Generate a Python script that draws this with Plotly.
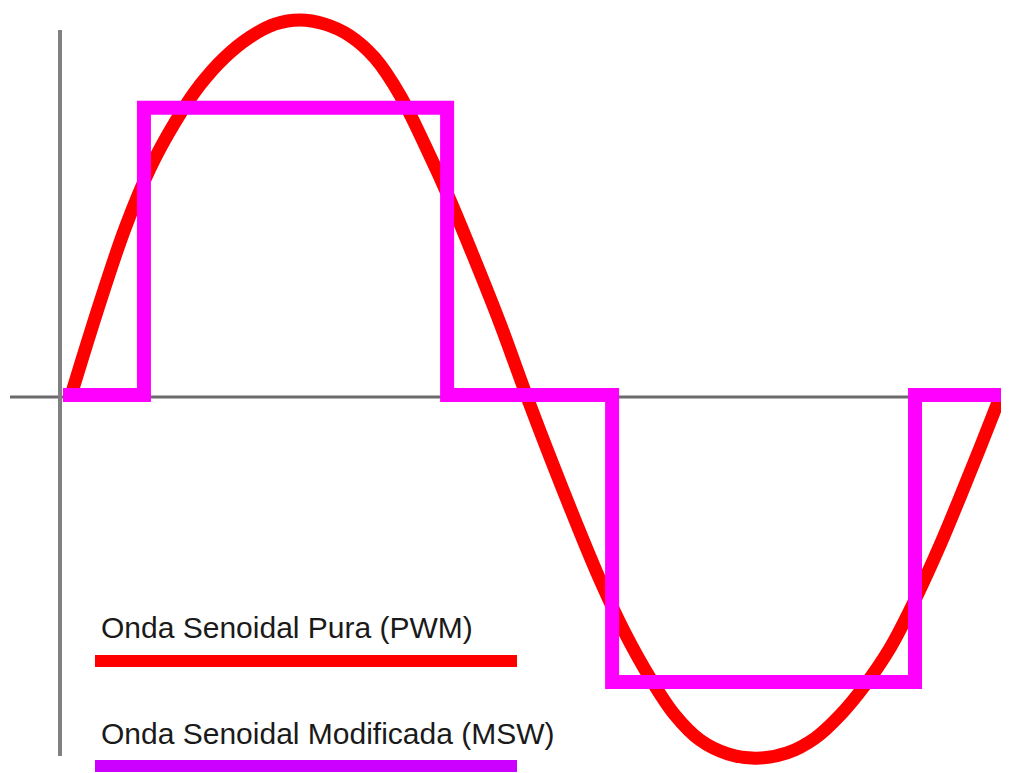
import plotly.graph_objects as go

# Pure sine (PWM): phase in degrees, amplitude (peak = 1)
pure_deg = [0.0, 10.9, 20.6, 30.3, 40.0, 49.7, 59.4, 69.1, 78.7, 88.4, 98.1, 107.8,
            117.5, 127.2, 136.9, 146.6, 156.3, 166.0, 176.5, 185.4, 195.1, 204.8,
            214.5, 224.2, 233.9, 243.6, 254.5, 265.7, 277.4, 288.2, 297.9, 307.6,
            317.3, 327.0, 336.7, 344.5, 352.2, 360.0]
pure_val = [0.013, 0.252, 0.448, 0.607, 0.729, 0.828, 0.902, 0.955, 0.989, 1.0, 0.989, 0.958,
            0.899, 0.801, 0.668, 0.523, 0.363, 0.196, 0.0, -0.159, -0.326, -0.485,
            -0.626, -0.745, -0.844, -0.910, -0.947, -0.958, -0.944, -0.905, -0.844, -0.764,
            -0.666, -0.538, -0.393, -0.265, -0.135, 0.0]

# Modified sine (MSW) step levels
msw_deg = [-3.5, 27.9, 145.5, 209.5, 327.0, 361.0]
msw_val = [0.005, 0.767, 0.005, -0.756, 0.005, 0.005]

legend_labels = ["Onda Senoidal Pura (PWM)", "Onda Senoidal Modificada (MSW)"]

RED = "#ff0000"
MAG = "#ff00ff"
MAG_LEG = "#cc00ff"

fig = go.Figure()

fig.add_trace(go.Scatter(x=pure_deg, y=pure_val, mode="lines",
                         line=dict(color=RED, width=13, shape="spline", smoothing=1.0),
                         hoverinfo="skip", showlegend=False))
fig.add_trace(go.Scatter(x=msw_deg, y=msw_val, mode="lines",
                         line=dict(color=MAG, width=14, shape="hv"),
                         hoverinfo="skip", showlegend=False))

# the page body has an 8px margin, so the figure starts at screen (8, 8)
OFF = 8
W, H = 1009 - OFF, 773 - OFF

def px(x):
    return (x - OFF) / W

def py(y):
    return 1 - (y - OFF) / H

shapes = [
    # horizontal axis (zero line)
    dict(type="line", xref="paper", yref="paper", x0=px(10), x1=px(1009), y0=py(397), y1=py(397),
         line=dict(color="#6b6b6b", width=3), layer="below"),
    # vertical axis
    dict(type="line", xref="paper", yref="paper", x0=px(60), x1=px(60), y0=py(30), y1=py(756),
         line=dict(color="#808080", width=4), layer="below"),
    # legend lines
    dict(type="line", xref="paper", yref="paper", x0=px(95), x1=px(517), y0=py(661), y1=py(661),
         line=dict(color=RED, width=12)),
    dict(type="line", xref="paper", yref="paper", x0=px(95), x1=px(517), y0=py(766), y1=py(766),
         line=dict(color=MAG_LEG, width=12)),
]

annotations = [
    dict(xref="paper", yref="paper", x=px(99), y=py(627), xanchor="left", yanchor="middle",
         text=legend_labels[0], showarrow=False,
         font=dict(family="Liberation Sans, Arial, sans-serif", size=30, color="#1a1a1a")),
    dict(xref="paper", yref="paper", x=px(99), y=py(733), xanchor="left", yanchor="middle",
         text=legend_labels[1], showarrow=False,
         font=dict(family="Liberation Sans, Arial, sans-serif", size=30, color="#1a1a1a")),
]

fig.update_layout(
    width=W, height=H,
    margin=dict(l=0, r=0, t=0, b=0),
    paper_bgcolor="white", plot_bgcolor="white",
    xaxis=dict(range=[-24.83, 363.46], visible=False, fixedrange=True),
    yaxis=dict(range=[-0.9973, 1.0318], visible=False, fixedrange=True),
    shapes=shapes, annotations=annotations,
    showlegend=False,
)

fig.write_html("out.html", config={"displayModeBar": False})
